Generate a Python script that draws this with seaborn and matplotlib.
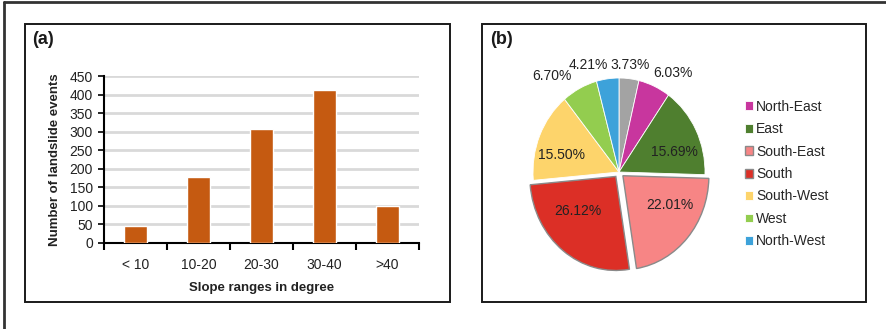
import matplotlib
matplotlib.use("Agg")
import matplotlib.pyplot as plt
from matplotlib.patches import Rectangle
from matplotlib.lines import Line2D
import seaborn as sns
import numpy as np
import pandas as pd

# ---- data ----
slope_ranges = ["< 10", "10-20", "20-30", "30-40", ">40"]
landslide_counts = [47, 178, 307, 413, 100]
y_ticks = [0, 50, 100, 150, 200, 250, 300, 350, 400, 450]

aspect_names = ["North", "North-East", "East", "South-East", "South",
                "South-West", "West", "North-West"]
aspect_pct = [3.73, 6.03, 15.69, 22.01, 26.12, 15.50, 6.70, 4.21]
aspect_colors = ["#A3A3A3", "#C8369E", "#4F7F2F", "#F78585", "#DC2F26",
                 "#FDD46B", "#93CD4F", "#3DA2DA"]
aspect_explode = [0, 0, 0, 0.06, 0.06, 0, 0, 0]
legend_names = aspect_names[1:]
# horizontal nudge of outside labels (layout only)
outer_label_nudge = [0, 0.15, 0, 0, 0, 0, -0.25, -0.2]

sns.set_style("white")
plt.rcParams["font.family"] = ["Liberation Sans", "DejaVu Sans"]

W, H = 886, 329
fig = plt.figure(figsize=(W / 100, H / 100), dpi=100)


def fx(px):
    return px / W


def fy(py):
    return 1 - py / H


# outer frame (top and left)
fig.add_artist(Line2D([fx(4), 1], [fy(2), fy(2)], color="#333333", lw=2.0,
                      transform=fig.transFigure))
fig.add_artist(Line2D([fx(4), fx(4)], [fy(2), 0], color="#333333", lw=2.0,
                      transform=fig.transFigure))

# panel boxes
for (x0, x1) in [(25, 450), (482, 866)]:
    fig.add_artist(Rectangle((fx(x0), fy(302)), fx(x1) - fx(x0), fy(24) - fy(302),
                             fill=False, edgecolor="#1a1a1a", lw=1.4,
                             transform=fig.transFigure))

fig.text(fx(32), fy(40), "(a)", fontsize=13, fontweight="bold", va="center", ha="left",
         color="#1a1a1a")
fig.text(fx(490), fy(40), "(b)", fontsize=13, fontweight="bold", va="center", ha="left",
         color="#1a1a1a")

# ---- panel (a): bar chart ----
ax = fig.add_axes([fx(104), fy(243), fx(419) - fx(104), fy(76) - fy(243)])
df = pd.DataFrame({"slope": slope_ranges, "count": landslide_counts})
sns.barplot(data=df, x="slope", y="count", color="#C55A11", saturation=1,
            width=0.37, ax=ax, zorder=3)
ax.set_ylim(0, 450)
ax.set_xlim(-0.5, len(slope_ranges) - 0.5)
ax.set_yticks(y_ticks)
ax.yaxis.grid(True, color="#D9D9D9", lw=2.0, zorder=0)
ax.set_axisbelow(True)
for s in ["top", "right"]:
    ax.spines[s].set_visible(False)
for s in ["left", "bottom"]:
    ax.spines[s].set_color("#000000")
    ax.spines[s].set_linewidth(1.5)
ax.tick_params(axis="y", which="major", length=4, width=1.2, color="black",
               labelsize=10, pad=4, direction="out", left=True)
ax.tick_params(axis="x", which="major", length=0, labelsize=10, pad=11)
ax.set_xticks(np.arange(-0.5, len(slope_ranges)), minor=True)
ax.tick_params(axis="x", which="minor", length=5, width=1.5, color="black",
               direction="out", bottom=True)
for lab in ax.get_xticklabels() + ax.get_yticklabels():
    lab.set_color("#222222")
ax.set_xlabel("Slope ranges in degree", fontsize=9.5, fontweight="bold", labelpad=7,
              color="#222222")
ax.set_ylabel("Number of landslide events", fontsize=9.5, fontweight="bold",
              labelpad=6, color="#222222")

# ---- panel (b): pie chart (slightly taller than wide, as in the reference) ----
rx_px, ry_px = 86, 94
cx, cy = 619, 172
pw, ph = 2.4 * rx_px, 2.4 * ry_px
pax = fig.add_axes([fx(cx - pw / 2), fy(cy + ph / 2), pw / W, ph / H])
wedges, texts = pax.pie(
    aspect_pct, colors=aspect_colors, explode=aspect_explode, startangle=90,
    counterclock=False,
    wedgeprops=dict(linewidth=0.6, edgecolor="white"), radius=1.0)
for w, e in zip(wedges, aspect_explode):
    if e > 0:
        w.set_edgecolor("#8a8a8a")
        w.set_linewidth(1.0)

cum = np.cumsum([0] + aspect_pct[:-1])
for i, (p, c0) in enumerate(zip(aspect_pct, cum)):
    mid = np.deg2rad(90 - (c0 + p / 2) * 3.6)
    ex = aspect_explode[i]
    dx, dy = np.cos(mid), np.sin(mid)
    if p < 10:
        tx = 1.15 * dx + outer_label_nudge[i]
        ty = 1.15 * dy
    else:
        tx = (0.72 + ex) * dx
        ty = (0.47 + ex) * dy
    pax.text(tx, ty, f"{p:.2f}%", ha="center", va="center", fontsize=10,
             color="#222222")
pax.set_xlim(-1.2, 1.2)
pax.set_ylim(-1.2, 1.2)
pax.set_aspect("auto")
pax.axis("off")

fig.legend(wedges[1:], legend_names, loc="center left",
           bbox_to_anchor=(fx(745), fy(174)), frameon=False, fontsize=10,
           handlelength=0.6, handleheight=0.6, handletextpad=0.2,
           labelspacing=0.61, borderpad=0, borderaxespad=0)

fig.savefig("out.png", dpi=100)
